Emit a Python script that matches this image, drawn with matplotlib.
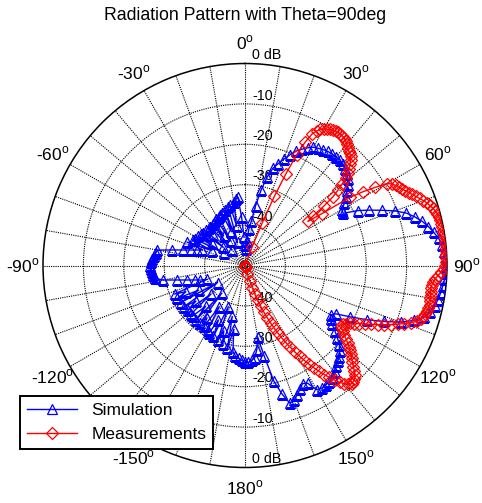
import matplotlib
matplotlib.use("Agg")
import matplotlib.pyplot as plt
import numpy as np

plt.rcParams["font.family"] = ["Liberation Sans", "DejaVu Sans"]
plt.rcParams["mathtext.fontset"] = "custom"
plt.rcParams["mathtext.rm"] = "Liberation Sans"

# -----------------------------
# Data (dB)
# -----------------------------
sim_angles = np.arange(0, 360, 2)
sim_db = [
    -45, -46, -44, -41, -39, -35, -31, -27.5, -25, -23.5,
    -22, -20.5, -19, -18, -17, -16.2, -15.8, -15.4, -15.1, -15,
    -14.9, -14.9, -15.1, -15.5, -16, -16.8, -17.7, -18.8, -19.8, -21,
    -22.3, -22.5, -19, -16.3, -13.5, -10.5, -8, -6.3, -4.8, -3.6,
    -2.6, -1.6, -1, -0.6, -0.3, -0.2, -0.3, -0.5, -0.8, -1.1,
    -1.5, -2, -2.8, -3.8, -6, -9, -13, -17, -21, -24.5,
    -25.5, -25, -24, -22.5, -21, -19.5, -18.5, -17.5, -17, -16.5,
    -15.5, -14.8, -14.5, -14.3, -14.2, -14.5, -17, -17.5, -16.5, -15.5,
    -14.5, -14.2, -17, -20.5, -27, -32, -29, -27, -26.5, -26,
    -26, -26.5, -27, -27.5, -28.5, -34, -29, -37, -29.8, -33,
    -30.3, -39, -30.8, -35, -31.2, -31.5, -38, -31.8, -34, -32,
    -41, -32, -36, -32, -32, -39, -32, -35, -31.8, -42,
    -31.6, -37, -31.4, -34, -31.2, -40, -38.3, -37, -35.2, -32.7,
    -29.3, -27.5, -27, -26.8, -26.6, -26.5, -26.7, -27, -27.3, -27.7,
    -28, -31.5, -34.2, -36.1, -37.6, -38.8, -34.5, -41, -35.6, -36,
    -44, -36.3, -40, -36.6, -36.8, -43, -37, -39, -37, -37.1,
    -45, -37, -41, -36.8, -36.5, -43, -36.3, -36, -35.9, -41,
    -35.5, -44, -35, -34.5, -40, -34, -33.5, -33, -38, -43,
]

meas_angles = np.arange(0, 181, 1)
meas_db = [
    -50, -50, -50, -50, -50, -50, -50, -50, -50, -50,
    -50, -50, -50, -50, -50, -50, -50, -50, -50, -50,
    -50, -45, -38.6, -31.4, -25.3, -19.8, -16, -13.5, -12.3, -11.5,
    -11, -10.6, -10.3, -10.1, -9.9, -9.8, -9.8, -9.9, -10.1, -10.4,
    -10.9, -11.3, -11.7, -12, -12.3, -13, -13.8, -14.8, -15.8, -17,
    -18.6, -20.4, -22.4, -25.5, -29.3, -31, -27, -19, -15.5, -12.5,
    -9.5, -8.3, -7.8, -7.3, -6.8, -6.2, -5.6, -5, -4.4, -3.7,
    -3, -2.4, -1.9, -1.4, -1, -0.7, -0.5, -0.4, -0.3, -0.3,
    -0.2, -0.2, -0.1, -0.1, -0.1, -0.1, -0.1, -0.2, -0.2, -0.3,
    -0.4, -0.8, -1.5, -2.2, -2.8, -3.2, -3.5, -3.6, -3.6, -3.5,
    -3.4, -3.3, -3.3, -3.4, -3.6, -3.9, -4.2, -4.5, -5.3, -6.5,
    -8, -9.5, -11, -12.5, -14, -15.5, -17, -18.3, -19.4, -20.4,
    -21.2, -21.7, -21.9, -21.5, -20.8, -20, -19.1, -18.2, -17.4, -16.6,
    -15.8, -15, -14.2, -13.3, -12.4, -11.6, -11, -10.7, -10.6, -11,
    -11.8, -12.8, -14, -15.3, -16.6, -18, -19.4, -20.8, -22.3, -23.8,
    -25.3, -26.8, -28.3, -29.8, -31.3, -32.8, -34.4, -36, -37.6, -39.2,
    -40.8, -42.5, -44.2, -46, -47.8, -49.5, -50, -50, -50, -50,
    -50, -50, -50, -50, -50, -50, -50, -50, -50, -50,
    -50,
]

ring_db = [-40, -30, -20, -10]
ring_labels = ["0 dB", "-10", "-20", "-30", "-40"]
ring_label_db = [0, -10, -20, -30, -40]
angle_ticks = [0, 30, 60, 90, 120, 150, 180, 210, 240, 270, 300, 330]
angle_labels = ["0", "30", "60", "90", "120", "150", "180",
                "-150", "-120", "-90", "-60", "-30"]

# -----------------------------
# Figure
# -----------------------------
W, H = 482, 503
fig = plt.figure(figsize=(W / 100, H / 100), dpi=100)

cx, cy, R = 245, 265.5, 202
ax = fig.add_axes(
    [(cx - R) / W, (H - cy - R) / H, 2 * R / W, 2 * R / H],
    projection="polar",
)
ax.set_theta_zero_location("N")
ax.set_theta_direction(-1)
ax.set_ylim(-50, 0)

ax.set_xticks(np.deg2rad(np.arange(0, 360, 10)))
ax.set_xticklabels([])
ax.set_yticks(ring_db)
ax.set_yticklabels([])
ax.tick_params(length=0)
ax.grid(True, color="black", linestyle=(0, (1, 1)), linewidth=0.8)
ax.spines["polar"].set_color("black")
ax.spines["polar"].set_linewidth(1.1)

ax.plot(
    np.deg2rad(sim_angles),
    sim_db,
    "-^",
    color="blue",
    mfc="none",
    ms=7.5,
    mew=0.9,
    lw=1.0,
    label="Simulation",
    zorder=3,
)
ax.plot(
    np.deg2rad(meas_angles),
    meas_db,
    "-D",
    color="red",
    mfc="none",
    ms=6,
    mew=0.9,
    lw=1.0,
    label="Measurements",
    zorder=4,
)

# angle labels
for a, lbl in zip(angle_ticks, angle_labels):
    ax.text(
        np.deg2rad(a),
        5,
        lbl + r"$^{\rm o}$",
        ha="center",
        va="center",
        fontsize=12.5,
        clip_on=False,
    )

# radial labels, along 0 and 180 deg
for th in [0, np.pi]:
    for r, lbl in zip(ring_label_db, ring_labels):
        ax.annotate(
            lbl,
            xy=(th, r),
            xytext=(5, 1),
            textcoords="offset points",
            ha="left",
            va="bottom",
            fontsize=10.3,
            zorder=1,
        )

leg = ax.legend(
    loc="lower left",
    bbox_to_anchor=(20 / W, 54 / H),
    bbox_transform=fig.transFigure,
    fontsize=12.5,
    fancybox=False,
    framealpha=1,
    edgecolor="black",
    borderaxespad=0,
    handlelength=2.9,
    numpoints=1,
)
leg.get_frame().set_linewidth(1.4)

fig.text(
    cx / W,
    1 - 15 / H,
    "Radiation Pattern with Theta=90deg",
    ha="center",
    va="center",
    fontsize=12.7,
)

fig.savefig("out.png", dpi=100)
